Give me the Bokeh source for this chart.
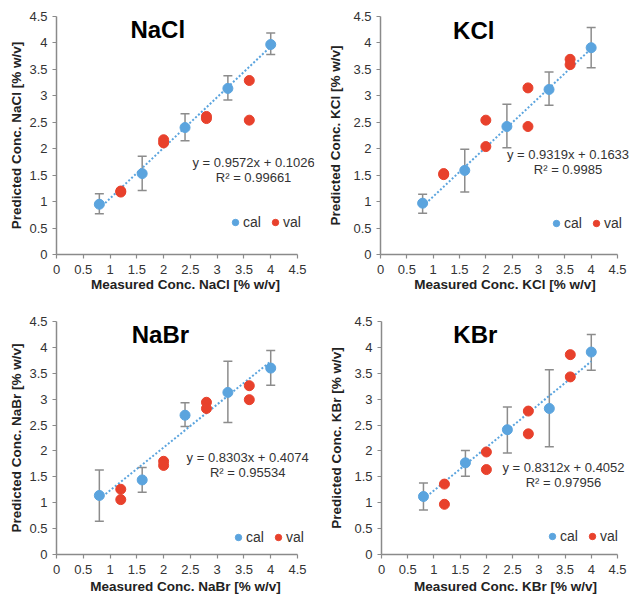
from bokeh.plotting import figure
from bokeh.layouts import column, row
from bokeh.models import Range1d, FixedTicker, Whisker, TeeHead, Label, Legend, ColumnDataSource
from bokeh.embed import file_html
from bokeh.resources import INLINE

# ---------------- data ----------------
x_cal = [0.8, 1.6, 2.4, 3.2, 4.0]
x_val = [1.2, 1.2, 2.0, 2.0, 2.8, 2.8, 3.6, 3.6]

salts = ["NaCl", "KCl", "NaBr", "KBr"]

nacl_cal = [0.95, 1.53, 2.40, 3.14, 3.97]
nacl_lo = [0.77, 1.21, 2.15, 2.92, 3.78]
nacl_hi = [1.15, 1.86, 2.66, 3.38, 4.19]
nacl_val = [1.20, 1.18, 2.17, 2.11, 2.61, 2.57, 3.29, 2.54]

kcl_cal = [0.97, 1.59, 2.42, 3.12, 3.91]
kcl_lo = [0.78, 1.18, 2.02, 2.82, 3.53]
kcl_hi = [1.14, 1.99, 2.84, 3.45, 4.29]
kcl_val = [1.53, 1.51, 2.54, 2.04, 3.15, 2.42, 3.69, 3.59]

nabr_cal = [1.14, 1.44, 2.69, 3.13, 3.60]
nabr_lo = [0.64, 1.20, 2.47, 2.55, 3.27]
nabr_hi = [1.63, 1.68, 2.93, 3.73, 3.94]
nabr_val = [1.26, 1.06, 1.80, 1.72, 2.94, 2.82, 3.26, 2.99]

kbr_cal = [1.12, 1.77, 2.41, 2.82, 3.91]
kbr_lo = [0.86, 1.51, 1.96, 2.08, 3.56]
kbr_hi = [1.38, 2.01, 2.85, 3.57, 4.25]
kbr_val = [1.36, 0.97, 1.98, 1.64, 2.77, 2.33, 3.86, 3.43]

slopes = [0.9572, 0.9319, 0.8303, 0.8312]
intercepts = [0.1026, 0.1633, 0.4074, 0.4052]
r2_texts = ["0.99661", "0.9985", "0.95534", "0.97956"]

tick_values = [0, 0.5, 1, 1.5, 2, 2.5, 3, 3.5, 4, 4.5]
tick_labels = ["0", "0.5", "1", "1.5", "2", "2.5", "3", "3.5", "4", "4.5"]

cal_sets = [nacl_cal, kcl_cal, nabr_cal, kbr_cal]
lo_sets = [nacl_lo, kcl_lo, nabr_lo, kbr_lo]
hi_sets = [nacl_hi, kcl_hi, nabr_hi, kbr_hi]
val_sets = [nacl_val, kcl_val, nabr_val, kbr_val]

# ---------------- styles ----------------
FONT = "Liberation Sans"
CAL_COLOR = "#5BA4DE"
VAL_COLOR = "#E8412C"
ERR_COLOR = "#8C8C8C"
AXIS_COLOR = "#8A8A8A"
TEXT_COLOR = "#333333"

# per-panel layout: width, height, borders, x-range end (frame extends past axis end),
# label standoffs, title pos, equation pos, legend location
layouts = [
    dict(w=315, h=297, l=56, r=1, t=16, b=43, xend=4.5 * 258 / 241, ys=2, xs=0,
         title=(1.89, 4.25), eq=(3.68, 1.60), leg=(171, 24)),
    dict(w=315, h=297, l=65, r=1, t=16, b=43, xend=4.5 * 249 / 237, ys=7, xs=0,
         title=(1.77, 4.24), eq=(3.56, 1.74), leg=(168, 23)),
    dict(w=315, h=300, l=56, r=1, t=24, b=43, xend=4.5 * 258 / 241, ys=2, xs=2,
         title=(1.94, 4.25), eq=(3.57, 1.72), leg=(174, 9)),
    dict(w=315, h=300, l=66, r=1, t=24, b=43, xend=4.5 * 248 / 236, ys=7, xs=2,
         title=(1.79, 4.25), eq=(3.47, 1.54), leg=(163, 10)),
]

figs = []
for i, salt in enumerate(salts):
    L = layouts[i]
    p = figure(width=L["w"], height=L["h"], output_backend="svg", toolbar_location=None,
               x_range=Range1d(0, L["xend"]), y_range=Range1d(0, 4.5),
               min_border_left=L["l"], min_border_right=L["r"],
               min_border_top=L["t"], min_border_bottom=L["b"])
    p.outline_line_color = None
    p.grid.visible = False
    p.background_fill_color = "white"
    p.border_fill_color = "white"

    for ax in (p.xaxis[0], p.yaxis[0]):
        ax.ticker = FixedTicker(ticks=tick_values, minor_ticks=[])
        ax.major_label_overrides = {v: s for v, s in zip(tick_values, tick_labels)}
        ax.bounds = (0, 4.5)
        ax.axis_line_color = AXIS_COLOR
        ax.axis_line_width = 1.5
        ax.major_tick_line_color = AXIS_COLOR
        ax.major_tick_line_width = 1.2
        ax.major_tick_out = 4
        ax.major_tick_in = 0
        ax.minor_tick_line_color = None
        ax.major_label_text_font = FONT
        ax.major_label_text_font_size = "13px"
        ax.major_label_text_color = TEXT_COLOR
        ax.axis_label_text_font = FONT
        ax.axis_label_text_font_size = "13.5px"
        ax.axis_label_text_font_style = "bold"
        ax.axis_label_text_color = "#222222"
    p.xaxis.axis_label = f"Measured Conc. {salt} [% w/v]"
    p.yaxis.axis_label = f"Predicted Conc. {salt} [% w/v]"
    p.xaxis.major_label_standoff = 6
    p.xaxis.axis_label_standoff = L["xs"]
    p.yaxis.major_label_standoff = 5
    p.yaxis.axis_label_standoff = L["ys"]

    # trendline from fit equation over calibration range
    tx = [min(x_cal), max(x_cal)]
    ty = [slopes[i] * x + intercepts[i] for x in tx]
    p.line(tx, ty, line_color=CAL_COLOR, line_width=2, line_dash="2 2")

    src = ColumnDataSource(dict(x=x_cal, y=cal_sets[i], lo=lo_sets[i], hi=hi_sets[i]))
    wh = Whisker(source=src, base="x", lower="lo", upper="hi",
                 line_color=ERR_COLOR, line_width=1.5, level="underlay",
                 upper_head=TeeHead(size=9, line_color=ERR_COLOR, line_width=1.5),
                 lower_head=TeeHead(size=9, line_color=ERR_COLOR, line_width=1.5))
    p.add_layout(wh)

    r_cal = p.scatter("x", "y", source=src, size=10, fill_color=CAL_COLOR, line_color=CAL_COLOR)
    r_val = p.scatter(x_val, val_sets[i], size=10, fill_color=VAL_COLOR, line_color=VAL_COLOR)

    p.add_layout(Label(x=L["title"][0], y=L["title"][1], text=salt, text_align="center",
                       text_baseline="middle", text_font=FONT, text_font_size="24px",
                       text_font_style="bold", text_color="#000000"))
    eq = f"y = {slopes[i]}x + {intercepts[i]}\nR\u00b2 = {r2_texts[i]}"
    p.add_layout(Label(x=L["eq"][0], y=L["eq"][1], text=eq, text_align="center",
                       text_baseline="middle", text_font=FONT, text_font_size="13px",
                       text_color=TEXT_COLOR, text_line_height=1.0))

    leg = Legend(items=[("cal", [r_cal]), ("val", [r_val])], orientation="horizontal",
                 location=L["leg"], border_line_color=None, background_fill_alpha=0,
                 padding=0, margin=0, spacing=4, glyph_width=16, glyph_height=16,
                 label_standoff=-2, label_height=16, label_width=20, label_text_font=FONT,
                 label_text_font_size="14px", label_text_color=TEXT_COLOR)
    p.add_layout(leg)
    figs.append(p)

layout = column(row(figs[0], figs[1]), row(figs[2], figs[3]))
open("out.html", "w").write(file_html(layout, INLINE))
